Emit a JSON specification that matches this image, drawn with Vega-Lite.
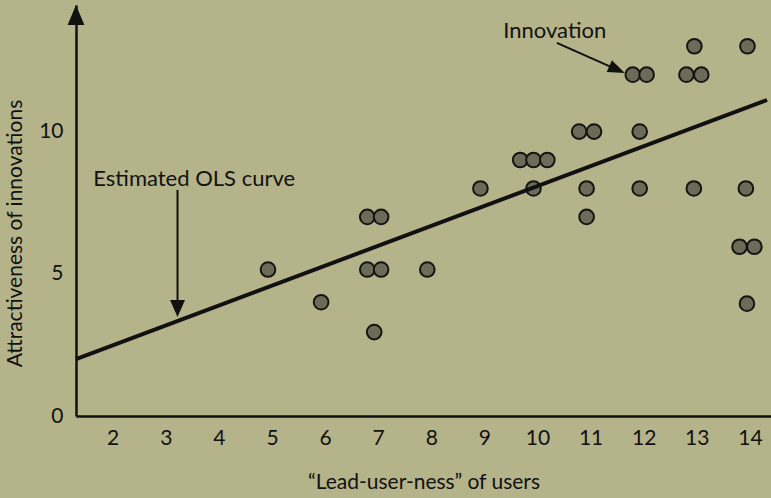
{
  "$schema": "https://vega.github.io/schema/vega-lite/v6.json",
  "width": 695,
  "height": 411,
  "autosize": {"type": "none"},
  "padding": {"left": 76, "top": 5, "right": 0, "bottom": 82},
  "background": "#b4b38a",
  "config": {"view": {"stroke": null}, "font": "Lato"},
  "datasets": {
    "points": [
      {"x": 5, "y": 5.15},
      {"x": 6, "y": 4.0},
      {"x": 6.87, "y": 7},
      {"x": 7.13, "y": 7},
      {"x": 6.87, "y": 5.15},
      {"x": 7.13, "y": 5.15},
      {"x": 7.0, "y": 2.95},
      {"x": 8, "y": 5.15},
      {"x": 9, "y": 8},
      {"x": 9.75, "y": 9},
      {"x": 10.0, "y": 9},
      {"x": 10.26, "y": 9},
      {"x": 10.0, "y": 8},
      {"x": 10.86, "y": 10},
      {"x": 11.14, "y": 10},
      {"x": 11, "y": 8},
      {"x": 11, "y": 7},
      {"x": 11.87, "y": 12},
      {"x": 12.13, "y": 12},
      {"x": 12, "y": 10},
      {"x": 12, "y": 8},
      {"x": 13.03, "y": 13},
      {"x": 12.88, "y": 12},
      {"x": 13.16, "y": 12},
      {"x": 13.02, "y": 8},
      {"x": 14.03, "y": 13},
      {"x": 14.0, "y": 8},
      {"x": 13.88, "y": 5.95},
      {"x": 14.16, "y": 5.95},
      {"x": 14.02, "y": 3.95}
    ],
    "ols": [
      {"x": 1.384, "y": 2.0},
      {"x": 14.4, "y": 11.11}
    ],
    "arrows": [
      {"x": 3.296, "y": 7.95, "x2": 3.296, "y2": 3.9},
      {"x": 10.44, "y": 13.12, "x2": 11.5, "y2": 12.24}
    ],
    "heads": [
      {"name": "yaxis", "x": 1.384, "y": 14.45},
      {"name": "ols", "x": 3.296, "y": 3.48},
      {"name": "innov", "x": 11.72, "y": 12.06}
    ],
    "labels": [
      {"x": 3.61, "y": 8.09, "label": "Estimated OLS curve"},
      {"x": 10.4, "y": 13.29, "label": "Innovation"}
    ]
  },
  "encoding": {
    "x": {
      "field": "x",
      "type": "quantitative",
      "scale": {"domain": [1.384, 14.473], "nice": false, "zero": false},
      "axis": {
        "title": "\u201cLead-user-ness\u201d of users",
        "values": [2, 3, 4, 5, 6, 7, 8, 9, 10, 11, 12, 13, 14],
        "grid": false,
        "ticks": false,
        "tickSize": 0,
        "domainColor": "#111111",
        "domainWidth": 2.5,
        "labelFont": "Lato",
        "labelFontSize": 21,
        "labelColor": "#111111",
        "labelPadding": 11,
        "labelFlush": false,
        "labelOverlap": false,
        "labelOffset": 4,
        "titleFont": "Lato",
        "titleFontSize": 21,
        "titleFontWeight": "normal",
        "titleColor": "#111111",
        "titlePadding": 23
      }
    },
    "y": {
      "field": "y",
      "type": "quantitative",
      "scale": {"domain": [0, 14.45], "nice": false, "zero": false},
      "axis": {
        "title": "Attractiveness of innovations",
        "values": [0, 5, 10],
        "grid": false,
        "ticks": false,
        "tickSize": 0,
        "domainColor": "#111111",
        "domainWidth": 2.5,
        "labelFont": "Lato",
        "labelFontSize": 21,
        "labelColor": "#111111",
        "labelPadding": 13,
        "labelFlush": false,
        "labelOverlap": false,
        "titleFont": "Lato",
        "titleFontSize": 21,
        "titleFontWeight": "normal",
        "titleColor": "#111111",
        "titlePadding": 13,
        "titleY": 228
      }
    }
  },
  "layer": [
    {
      "data": {"name": "points"},
      "mark": {"type": "circle", "fill": "#6c6b57", "stroke": "#141414", "strokeWidth": 2, "size": 215, "opacity": 1}
    },
    {
      "data": {"name": "ols"},
      "mark": {"type": "line", "color": "#111111", "strokeWidth": 4}
    },
    {
      "data": {"name": "arrows"},
      "mark": {"type": "rule", "color": "#111111", "strokeWidth": 2},
      "encoding": {"x2": {"field": "x2"}, "y2": {"field": "y2"}}
    },
    {
      "data": {"name": "heads"},
      "transform": [{"filter": "datum.name === 'yaxis'"}],
      "mark": {"type": "point", "shape": "M0,0L-1,-0.42L-1,0.42Z", "filled": true, "color": "#111111", "opacity": 1, "size": 1600, "angle": 270, "strokeWidth": 0}
    },
    {
      "data": {"name": "heads"},
      "transform": [{"filter": "datum.name === 'ols'"}],
      "mark": {"type": "point", "shape": "M0,0L-1,-0.44L-1,0.44Z", "filled": true, "color": "#111111", "opacity": 1, "size": 1156, "angle": 90, "strokeWidth": 0}
    },
    {
      "data": {"name": "heads"},
      "transform": [{"filter": "datum.name === 'innov'"}],
      "mark": {"type": "point", "shape": "M0,0L-1,-0.38L-1,0.38Z", "filled": true, "color": "#111111", "opacity": 1, "size": 1156, "angle": 24, "strokeWidth": 0}
    },
    {
      "data": {"name": "labels"},
      "mark": {"type": "text", "align": "center", "baseline": "alphabetic", "font": "Lato", "fontSize": 22, "color": "#111111"},
      "encoding": {"text": {"field": "label", "type": "nominal"}}
    }
  ]
}
